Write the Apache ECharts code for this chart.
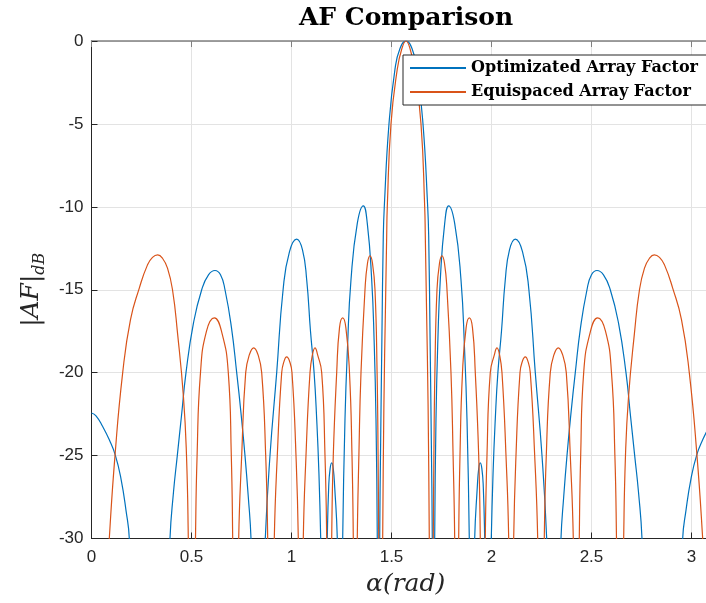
<!DOCTYPE html>
<html>
<head>
<meta charset="utf-8">
<script src="https://cdn.jsdelivr.net/npm/echarts@6/dist/echarts.min.js"></script>
<style>
html, body { margin: 0; padding: 0; background: #fff; }
#chart { width: 706px; height: 603px; }
</style>
</head>
<body>
<div id="chart"></div>
<script>
// 곡선 데이터 (그림에서 읽은 값, 단위: rad / dB)
const optAlpha = [
    0, 0.0225, 0.056, 0.089, 0.119, 0.1475, 0.1725, 0.189, 0.20, 0.29, 0.38,
    0.3925, 0.41, 0.429, 0.45, 0.4725, 0.51, 0.551, 0.585, 0.6175, 0.645, 0.6675, 0.70, 0.726, 0.748, 0.7675, 0.784, 0.7975,
    0.81, 0.835, 0.855,
    0.869, 0.8925, 0.926, 0.958, 0.99, 1.026, 1.055, 1.076, 1.095, 1.113, 1.126, 1.137, 1.146,
    1.154, 1.162, 1.171,
    1.179, 1.186, 1.193, 1.2015, 1.209, 1.216, 1.229,
    1.236, 1.243, 1.25,
    1.256, 1.2675, 1.28, 1.2975, 1.329, 1.359, 1.379, 1.401, 1.413, 1.4225, 1.429,
    1.434, 1.437, 1.439,
    1.441, 1.446, 1.452, 1.459, 1.464, 1.4875, 1.5175, 1.5425, 1.5725,
    1.6025, 1.6275, 1.6575, 1.681, 1.686, 1.693, 1.699, 1.704,
    1.706, 1.708, 1.711,
    1.716, 1.7225, 1.732, 1.744, 1.766, 1.786, 1.816, 1.8475, 1.865, 1.8775, 1.889,
    1.895, 1.902, 1.909,
    1.916, 1.929, 1.936, 1.9435, 1.952, 1.959, 1.966,
    1.974, 1.983, 1.991,
    1.999, 2.008, 2.019, 2.032, 2.05, 2.069, 2.09, 2.119, 2.155, 2.187, 2.219, 2.2525, 2.276,
    2.29, 2.31, 2.335,
    2.3475, 2.361, 2.3775, 2.397, 2.419, 2.445, 2.4775, 2.50, 2.5275, 2.56, 2.594, 2.635, 2.6725, 2.695, 2.716, 2.735, 2.7525,
    2.765, 2.855, 2.945,
    2.956, 2.9725, 2.9975, 3.026, 3.056, 3.089, 3.1225, 3.145
];
const optAF = [
    -22.43, -22.6, -23.25, -24.05, -24.97, -26.4, -28.3, -30, -36, -45, -36,
    -30, -27.2, -25, -22.6, -20, -17, -15, -14.1, -13.84, -14.1, -15, -17.3, -20, -22.5, -25, -27.5, -30,
    -36, -45, -36,
    -30, -25, -20, -15, -12.7, -11.95, -12.6, -14.4, -17.5, -20, -22.8, -26, -30,
    -36, -45, -36,
    -30, -26.9, -25.8, -25.44, -25.8, -26.9, -30,
    -36, -45, -36,
    -30, -22.8, -18.5, -14.4, -11, -9.94, -11, -14.4, -18, -22.8, -30,
    -38, -45, -38,
    -30, -24, -18, -11.75, -10, -5, -1.7, -0.45, 0,
    -0.45, -1.7, -5, -10, -11.75, -18, -24, -30,
    -38, -45, -38,
    -30, -22.8, -18, -14.4, -11, -9.94, -11, -14.4, -18.5, -22.8, -30,
    -36, -45, -36,
    -30, -26.9, -25.8, -25.44, -25.8, -26.9, -30,
    -36, -45, -36,
    -30, -26, -22.8, -20, -17.5, -14.4, -12.6, -11.95, -12.7, -15, -20, -25, -30,
    -36, -45, -36,
    -30, -27.5, -25, -22.5, -20, -17.3, -15, -14.1, -13.84, -14.1, -15, -17, -20, -22.6, -25, -27.2, -30,
    -36, -45, -36,
    -30, -28.3, -26.4, -24.97, -24.05, -23.25, -22.6, -22.43
];

const equiAlpha = [
    0, 0.05, 0.089, 0.1175, 0.156, 0.195, 0.239, 0.28, 0.305, 0.331, 0.355, 0.38, 0.405, 0.43, 0.46, 0.475, 0.484,
    0.492, 0.502, 0.512,
    0.52, 0.528, 0.545, 0.575, 0.614, 0.65, 0.684, 0.699, 0.706,
    0.713, 0.721, 0.729,
    0.736, 0.751, 0.771, 0.79, 0.811, 0.832, 0.851, 0.871, 0.881,
    0.889, 0.8975, 0.906,
    0.914, 0.929, 0.951, 0.963, 0.976, 0.99, 1.0025, 1.0225, 1.034,
    1.04, 1.0465, 1.053,
    1.059, 1.0725, 1.0925, 1.105, 1.1175, 1.13, 1.151, 1.1675, 1.176,
    1.182, 1.1885, 1.195,
    1.201, 1.209, 1.226, 1.24, 1.256, 1.272, 1.29, 1.3025, 1.309,
    1.314, 1.319, 1.324,
    1.329, 1.337, 1.3475, 1.3675, 1.38, 1.3925, 1.405, 1.4175, 1.428, 1.433, 1.436,
    1.441, 1.446, 1.451,
    1.456, 1.462, 1.470, 1.476, 1.479, 1.4975, 1.529, 1.551, 1.5725,
    1.5935, 1.616, 1.6475, 1.666, 1.669, 1.675, 1.683, 1.689,
    1.694, 1.699, 1.704,
    1.709, 1.712, 1.717, 1.7275, 1.74, 1.7525, 1.765, 1.7775, 1.7975, 1.808, 1.816,
    1.821, 1.826, 1.831,
    1.836, 1.8425, 1.855, 1.873, 1.889, 1.905, 1.919, 1.936, 1.944,
    1.95, 1.9565, 1.963,
    1.969, 1.9775, 1.994, 2.015, 2.0275, 2.04, 2.0525, 2.0725, 2.086,
    2.092, 2.0985, 2.105,
    2.111, 2.1225, 2.1425, 2.155, 2.169, 2.182, 2.194, 2.216, 2.231,
    2.239, 2.2475, 2.256,
    2.264, 2.274, 2.294, 2.313, 2.334, 2.355, 2.374, 2.394, 2.409,
    2.416, 2.424, 2.432,
    2.439, 2.446, 2.461, 2.495, 2.531, 2.57, 2.6, 2.617, 2.625,
    2.633, 2.643, 2.653,
    2.661, 2.67, 2.685, 2.715, 2.74, 2.765, 2.79, 2.814, 2.84, 2.865, 2.906, 2.95, 2.989, 3.0275, 3.056, 3.095, 3.145
];
const equiAF = [
    -45, -38, -30, -25, -20, -16.8, -14.9, -13.5, -13.05, -12.9, -13.1, -13.7, -15, -17.6, -21.5, -25, -30,
    -38, -45, -38,
    -30, -25, -20, -17.5, -16.7, -17.5, -20, -25, -30,
    -38, -45, -38,
    -30, -25, -20, -18.9, -18.5, -18.9, -20, -25, -30,
    -38, -45, -38,
    -30, -25, -20, -19.3, -19.05, -19.3, -20, -25, -30,
    -38, -45, -38,
    -30, -25, -20, -18.9, -18.5, -18.9, -20, -25, -30,
    -38, -45, -38,
    -30, -25, -20, -17.3, -16.7, -17.3, -20, -25, -30,
    -38, -45, -38,
    -30, -25, -20, -15, -13.4, -12.95, -13.4, -15, -20, -25, -30,
    -38, -45, -38,
    -30, -22, -16, -11.75, -10, -5, -1.7, -0.5, 0,
    -0.5, -1.7, -5, -10, -11.75, -16, -22, -30,
    -38, -45, -38,
    -30, -25, -20, -15, -13.4, -12.95, -13.4, -15, -20, -25, -30,
    -38, -45, -38,
    -30, -25, -20, -17.3, -16.7, -17.3, -20, -25, -30,
    -38, -45, -38,
    -30, -25, -20, -18.9, -18.5, -18.9, -20, -25, -30,
    -38, -45, -38,
    -30, -25, -20, -19.3, -19.05, -19.3, -20, -25, -30,
    -38, -45, -38,
    -30, -25, -20, -18.9, -18.5, -18.9, -20, -25, -30,
    -38, -45, -38,
    -30, -25, -20, -17.5, -16.7, -17.5, -20, -25, -30,
    -38, -45, -38,
    -30, -25, -21.5, -17.6, -15, -13.7, -13.1, -12.9, -13.05, -13.5, -14.9, -16.8, -20, -25, -30, -38, -45
];

// 축 눈금
const xTicks = [0, 0.5, 1, 1.5, 2, 2.5, 3];
const yTicks = [0, -5, -10, -15, -20, -25, -30];

const seriesNames = ['Optimizated Array Factor', 'Equispaced Array Factor'];
const seriesColors = ['#0072BD', '#D95319'];

function toPairs(xs, ys) {
    return xs.map((x, i) => [x, ys[i]]);
}

const axisColor = '#262626';
const gridColor = '#e3e3e3';

const chart = echarts.init(document.getElementById('chart'));

const option = {
    animation: false,
    backgroundColor: '#fff',
    title: {
        text: 'AF Comparison',
        left: 401,
        top: 1,
        textAlign: 'center',
        textStyle: {
            fontFamily: 'DejaVu Serif',
            fontWeight: 'bold',
            fontSize: 25,
            color: '#000'
        }
    },
    legend: {
        orient: 'vertical',
        left: 403,
        top: 55,
        itemWidth: 56,
        itemHeight: 14,
        itemGap: 8,
        padding: [5, 40, 5, 6],
        backgroundColor: '#fff',
        borderColor: axisColor,
        borderWidth: 1,
        selectedMode: false,
        itemStyle: { opacity: 0 },
        data: seriesNames,
        textStyle: {
            fontFamily: 'DejaVu Serif',
            fontWeight: 'bold',
            fontSize: 16,
            color: '#000'
        }
    },
    grid: {
        left: 91.5,
        top: 41,
        width: 628.3,
        height: 497.5,
        outerBoundsMode: 'none'
    },
    xAxis: [
        {
            type: 'value',
            position: 'bottom',
            min: 0,
            max: 3.1416,
            interval: 0.5,
            name: 'α(rad)',
            nameLocation: 'middle',
            nameGap: 33,
            nameTextStyle: {
                fontFamily: 'DejaVu Serif',
                fontStyle: 'italic',
                fontSize: 25,
                color: axisColor
            },
            axisLine: { show: true, onZero: false, lineStyle: { color: axisColor, width: 1 } },
            axisTick: { show: true, inside: true, length: 6, lineStyle: { color: axisColor } },
            axisLabel: {
                showMaxLabel: false,
                margin: 10,
                fontFamily: 'Liberation Sans',
                fontSize: 17,
                color: axisColor,
                formatter: (v) => (xTicks.includes(v) ? String(v) : '')
            },
            splitLine: { show: true, lineStyle: { color: gridColor, width: 1 } }
        },
        {
            type: 'value',
            position: 'top',
            min: 0,
            max: 3.1416,
            interval: 0.5,
            axisLine: { show: true, onZero: false, lineStyle: { color: '#808080', width: 1.5 } },
            axisTick: { show: true, inside: true, length: 6, lineStyle: { color: '#808080' } },
            axisLabel: { show: false },
            splitLine: { show: false }
        }
    ],
    yAxis: {
        type: 'value',
        min: -30,
        max: 0,
        interval: 5,
        name: '{a||AF|}{b|dB}',
        nameLocation: 'middle',
        nameRotate: 90,
        nameGap: 34,
        nameTextStyle: {
            color: axisColor,
            rich: {
                a: { fontFamily: 'DejaVu Serif', fontStyle: 'italic', fontSize: 25, lineHeight: 34, verticalAlign: 'middle', color: axisColor },
                b: { fontFamily: 'DejaVu Serif', fontStyle: 'italic', fontSize: 16, lineHeight: 34, verticalAlign: 'bottom', color: axisColor }
            }
        },
        axisLine: { show: true, lineStyle: { color: axisColor, width: 1 } },
        axisTick: { show: true, inside: true, length: 6, lineStyle: { color: axisColor } },
        axisLabel: {
            margin: 8,
            fontFamily: 'Liberation Sans',
            fontSize: 17,
            color: axisColor,
            formatter: (v) => (yTicks.includes(v) ? String(v) : '')
        },
        splitLine: { show: true, lineStyle: { color: gridColor, width: 1 } }
    },
    series: [
        {
            name: seriesNames[0],
            type: 'line',
            xAxisIndex: 0,
            data: toPairs(optAlpha, optAF),
            symbol: 'none',
            smooth: 0.5,
            clip: true,
            color: seriesColors[0],
            lineStyle: { color: seriesColors[0], width: 1.2 }
        },
        {
            name: seriesNames[1],
            type: 'line',
            xAxisIndex: 0,
            data: toPairs(equiAlpha, equiAF),
            symbol: 'none',
            smooth: 0.5,
            clip: true,
            color: seriesColors[1],
            lineStyle: { color: seriesColors[1], width: 1.2 }
        }
    ]
};

chart.setOption(option);
</script>
</body>
</html>
